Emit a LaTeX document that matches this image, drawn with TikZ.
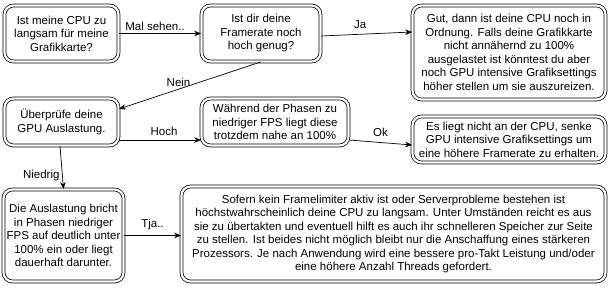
\documentclass[tikz,border=0pt]{standalone}
\usepackage{fontspec}
\setmainfont{Liberation Sans}
\usetikzlibrary{arrows.meta}

\begin{document}
\begin{tikzpicture}[
    x=1pt, y=-1pt,
    box/.style={draw, double, double distance=2.2pt, line width=0.75pt, rounded corners=9pt,
                align=center, inner sep=0pt, font=\fontsize{11.5}{13.5}\selectfont},
    arrow/.style={-{Stealth[length=7pt, width=5.5pt]}, line width=0.7pt},
    lbl/.style={font=\fontsize{11.5}{13.5}\selectfont, inner sep=2.5pt}
]
\useasboundingbox (0,0) rectangle (612,287);

% questions and answers
\node[box, minimum width=114pt, minimum height=56pt] (start) at (61.5,33.5) {Ist meine CPU zu\\langsam f\"ur meine\\Grafikkarte?};
\node[box, minimum width=119pt, minimum height=56pt] (framerate) at (261,33.5) {Ist dir deine\\Framerate noch\\hoch genug?};
\node[box, minimum width=193pt, minimum height=94pt] (cpuok) at (509,52.5) {Gut, dann ist deine CPU noch in\\Ordnung. Falls deine Grafikkarte\\nicht ann\"ahernd zu 100\%\\ausgelastet ist k\"onntest du aber\\noch GPU intensive Grafiksettings\\h\"oher stellen um sie auszureizen.};
\node[box, minimum width=114pt, minimum height=47pt] (gpuload) at (61.5,122) {\"Uberpr\"ufe deine\\GPU Auslastung.};
\node[box, minimum width=147pt, minimum height=47pt] (high) at (275,122) {W\"ahrend der Phasen zu\\niedriger FPS liegt diese\\trotzdem nahe an 100\%};
\node[box, minimum width=193pt, minimum height=46pt] (gpulimit) at (509,139.5) {Es liegt nicht an der CPU, senke\\GPU intensive Grafiksettings um\\eine h\"ohere Framerate zu erhalten.};
\node[box, minimum width=120pt, minimum height=92pt] (low) at (63.5,235.5) {Die Auslastung bricht\\in Phasen niedriger\\FPS auf deutlich unter\\100\% ein oder liegt\\dauerhaft darunter.};
\node[box, minimum width=424pt, minimum height=95pt] (cpulimit) at (393.5,234) {Sofern kein Framelimiter aktiv ist oder Serverprobleme bestehen ist\\h\"ochstwahrscheinlich deine CPU zu langsam. Unter Umst\"anden reicht es aus\\sie zu \"ubertakten und eventuell hilft es auch ihr schnelleren Speicher zur Seite\\zu stellen. Ist beides nicht m\"oglich bleibt nur die Anschaffung eines st\"arkeren\\Prozessors. Je nach Anwendung wird eine bessere pro-Takt Leistung und/oder\\eine h\"ohere Anzahl Threads gefordert.};

% connectors
\draw[arrow] (start.east) -- node[lbl, above, pos=0.44] {Mal sehen..} (framerate.west);
\draw[arrow] ([yshift=-2.5pt]framerate.east) -- node[lbl, above=3pt, pos=0.43] {Ja} ([yshift=20.5pt]cpuok.west);
\draw[arrow] (framerate.south) -- node[lbl, above, pos=0.58] {Nein} ([yshift=13pt]gpuload.east);
\draw[arrow] ([yshift=-18pt]gpuload.east) -- node[lbl, above=2pt, pos=0.55] {Hoch} ([yshift=-18pt]high.west);
\draw[arrow] ([yshift=-18pt]high.east) -- node[lbl, above=3pt, pos=0.5] {Ok} ([yshift=-5.5pt]gpulimit.west);
\draw[arrow] ([xshift=-1.5pt]gpuload.south) -- node[lbl, left, pos=0.68] {Niedrig} (low.north);
\draw[arrow] (low.east) -- node[lbl, above=3pt, pos=0.5] {Tja..} (low.east -| cpulimit.west);
\end{tikzpicture}
\end{document}
